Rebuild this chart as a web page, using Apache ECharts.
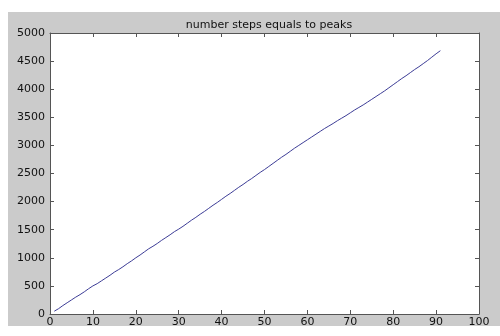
<!DOCTYPE html>
<html>
<head>
<meta charset="utf-8">
<script src="https://cdn.jsdelivr.net/npm/echarts@6/dist/echarts.min.js"></script>
<style>
html,body{margin:0;padding:0;background:#fff;}
#c{width:500px;height:336px;}
</style>
</head>
<body>
<div id="c"></div>
<script>
const titleText = "number steps equals to peaks";
const xValues = [1,2,3,4,5,6,7,8,9,10,11,12,13,14,15,16,17,18,19,20,21,22,23,24,25,26,27,28,29,30,31,32,33,34,35,36,37,38,39,40,41,42,43,44,45,46,47,48,49,50,51,52,53,54,55,56,57,58,59,60,61,62,63,64,65,66,67,68,69,70,71,72,73,74,75,76,77,78,79,80,81,82,83,84,85,86,87,88,89,90,91];
const yValues = [50,95,150,200,250,300,345,395,450,500,540,590,640,690,745,790,840,895,945,1000,1050,1105,1160,1205,1255,1310,1360,1410,1465,1510,1560,1615,1670,1720,1775,1825,1880,1935,1985,2040,2095,2145,2200,2255,2305,2360,2410,2465,2520,2570,2625,2680,2735,2790,2840,2895,2950,3000,3050,3100,3150,3200,3250,3300,3345,3390,3440,3485,3530,3580,3630,3675,3720,3770,3820,3870,3920,3970,4025,4080,4135,4190,4240,4295,4350,4400,4455,4510,4570,4630,4685];
const xTicks = {min: 0, max: 100, interval: 10};
const yTicks = {min: 0, max: 5000, interval: 500};

const pts = xValues.map((x, i) => [x, yValues[i]]);
const font = 'DejaVu Sans';
const axisCol = '#555555';
const plain = v => String(v);

const chart = echarts.init(document.getElementById('c'), null, {renderer: 'canvas'});
chart.setOption({
  animation: false,
  backgroundColor: '#ffffff',
  graphic: [{
    type: 'rect', z: -10, silent: true,
    shape: {x: 8, y: 12, width: 492, height: 314},
    style: {fill: '#cbcbcb'}
  }],
  title: {
    text: titleText, left: 264, top: 15, textAlign: 'center',
    textStyle: {fontFamily: font, fontSize: 11, fontWeight: 'normal', color: '#111'}
  },
  grid: {left: 50, top: 33, right: 21, bottom: 22, show: true, backgroundColor: '#ffffff', borderWidth: 0},
  xAxis: [{
    type: 'value', min: xTicks.min, max: xTicks.max, interval: xTicks.interval, position: 'bottom',
    axisLine: {show: true, lineStyle: {color: axisCol, width: 1}},
    axisTick: {show: true, inside: true, length: 4, lineStyle: {color: axisCol}},
    axisLabel: {color: '#111', fontFamily: font, fontSize: 11, margin: 3, formatter: plain},
    splitLine: {show: false}
  }, {
    type: 'value', min: xTicks.min, max: xTicks.max, interval: xTicks.interval, position: 'top',
    axisLine: {show: true, onZero: false, lineStyle: {color: axisCol, width: 1}},
    axisTick: {show: true, inside: true, length: 4, lineStyle: {color: axisCol}},
    axisLabel: {show: false}, splitLine: {show: false}
  }],
  yAxis: [{
    type: 'value', min: yTicks.min, max: yTicks.max, interval: yTicks.interval, position: 'left',
    axisLine: {show: true, lineStyle: {color: axisCol, width: 1}},
    axisTick: {show: true, inside: true, length: 4, lineStyle: {color: axisCol}},
    axisLabel: {color: '#111', fontFamily: font, fontSize: 11, margin: 5, formatter: plain},
    splitLine: {show: false}
  }, {
    type: 'value', min: yTicks.min, max: yTicks.max, interval: yTicks.interval, position: 'right',
    axisLine: {show: true, onZero: false, lineStyle: {color: axisCol, width: 1}},
    axisTick: {show: true, inside: true, length: 4, lineStyle: {color: axisCol}},
    axisLabel: {show: false}, splitLine: {show: false}
  }],
  series: [{
    type: 'line', data: pts, xAxisIndex: 0, yAxisIndex: 0,
    showSymbol: false, symbol: 'none',
    lineStyle: {color: '#3c3c96', width: 1}
  }]
});
</script>
</body>
</html>
